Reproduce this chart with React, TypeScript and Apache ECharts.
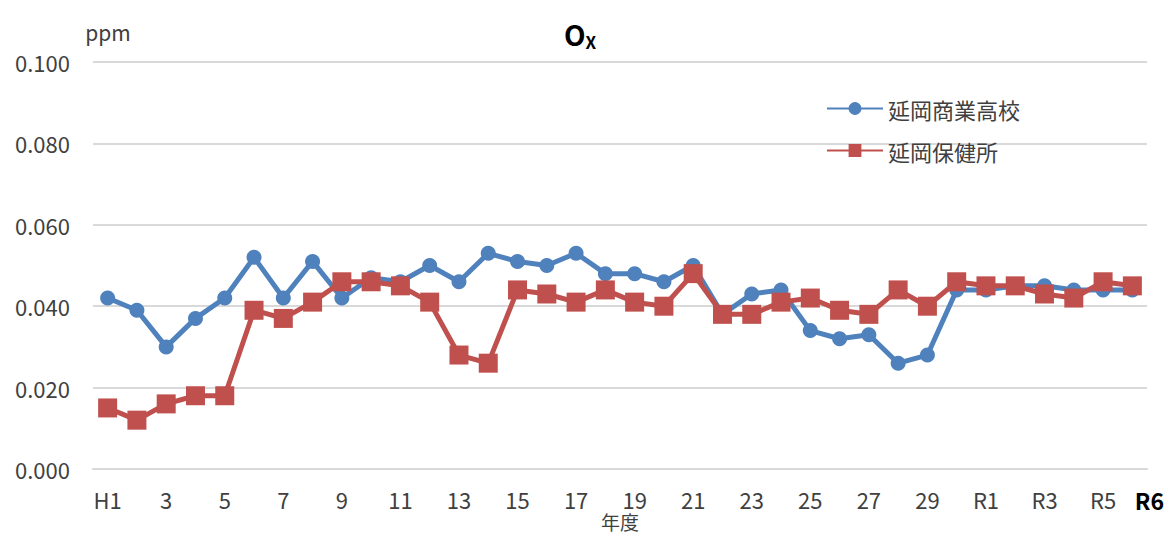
import React, { useEffect, useRef } from "react";
import * as echarts from "echarts";

const categories = [
  "H1","2","3","4","5","6","7","8","9","10","11","12","13","14","15","16","17","18","19","20",
  "21","22","23","24","25","26","27","28","29","30","R1","R2","R3","R4","R5","R6",
];
const nobeokaShogyo = [
  0.042,0.039,0.030,0.037,0.042,0.052,0.042,0.051,0.042,0.047,0.046,0.050,0.046,0.053,0.051,0.050,0.053,0.048,0.048,0.046,
  0.050,0.038,0.043,0.044,0.034,0.032,0.033,0.026,0.028,0.044,0.044,0.045,0.045,0.044,0.044,0.044,
];
const nobeokaHoken = [
  0.015,0.012,0.016,0.018,0.018,0.039,0.037,0.041,0.046,0.046,0.045,0.041,0.028,0.026,0.044,0.043,0.041,0.044,0.041,0.040,
  0.048,0.038,0.038,0.041,0.042,0.039,0.038,0.044,0.040,0.046,0.045,0.045,0.043,0.042,0.046,0.045,
];
const seriesNames = ["延岡商業高校", "延岡保健所"];

const FONT = "'Noto Sans CJK JP', 'Noto Sans', sans-serif";

export default function App() {
  const ref = useRef<HTMLDivElement>(null);
  useEffect(() => {
    document.body.style.margin = "0";
    const chart = echarts.init(ref.current!, null, { renderer: "svg" });
    const last = categories.length - 1;
    chart.setOption({
      animation: false,
      textStyle: { fontFamily: FONT },
      title: {
        text: "{o|O}{x|X}",
        left: 575,
        top: 12,
        textAlign: "center",
        textStyle: {
          rich: {
            o: { fontSize: 28, fontWeight: "bold", color: "#000", fontFamily: FONT },
            x: { fontSize: 17, fontWeight: "bold", color: "#000", fontFamily: FONT, padding: [16, 0, 0, 0] },
          },
        },
      },
      legend: {
        orient: "vertical",
        left: 821,
        top: 92,
        itemWidth: 56,
        itemHeight: 16,
        itemGap: 19,
        textStyle: { fontSize: 22, lineHeight: 23, color: "#404040", fontFamily: FONT },
        data: seriesNames,
      },
      grid: { left: 93, right: 22, top: 62, bottom: 65, containLabel: false, outerBoundsMode: "none" },
      xAxis: {
        type: "category",
        data: categories,
        boundaryGap: true,
        name: "年度",
        nameLocation: "middle",
        nameGap: 43,
        nameMoveOverlap: false,
        nameTextStyle: { fontSize: 19, color: "#404040", fontFamily: FONT },
        axisLine: { lineStyle: { color: "#d9d9d9", width: 2 } },
        axisTick: { show: false },
        axisLabel: {
          interval: (i: number) => i % 2 === 0 || i === last,
          margin: 19,
          fontSize: 22,
          color: "#404040",
          fontFamily: FONT,
          formatter: (v: string, i: number) => (i === last ? `{b|${v}}` : v),
          rich: {
            b: { fontSize: 23, fontWeight: "bold", color: "#000", fontFamily: FONT, padding: [0, 0, 0, 34] },
          },
        },
      },
      yAxis: {
        type: "value",
        min: 0,
        max: 0.1,
        interval: 0.02,
        name: "ppm",
        nameLocation: "end",
        nameGap: 20,
        nameTextStyle: { fontSize: 21, color: "#404040", fontFamily: FONT, align: "center", padding: [0, 0, 0, 30] },
        axisLine: { show: false },
        axisTick: { show: false },
        splitLine: { lineStyle: { color: "#d9d9d9", width: 2 } },
        axisLabel: {
          fontSize: 22,
          color: "#404040",
          fontFamily: FONT,
          margin: 23,
          formatter: (v: number) => v.toFixed(3),
        },
      },
      series: [
        {
          name: seriesNames[0],
          type: "line",
          data: nobeokaShogyo,
          color: "#4f81bd",
          symbol: "circle",
          symbolSize: 15,
          lineStyle: { width: 5, color: "#4f81bd" },
          itemStyle: { color: "#4f81bd" },
          z: 2,
        },
        {
          name: seriesNames[1],
          type: "line",
          data: nobeokaHoken,
          color: "#c0504d",
          symbol: "rect",
          symbolSize: 19,
          lineStyle: { width: 5, color: "#c0504d" },
          itemStyle: { color: "#c0504d" },
          z: 3,
        },
      ],
    });
    return () => chart.dispose();
  }, []);
  return <div ref={ref} style={{ width: 1169, height: 534 }} />;
}
